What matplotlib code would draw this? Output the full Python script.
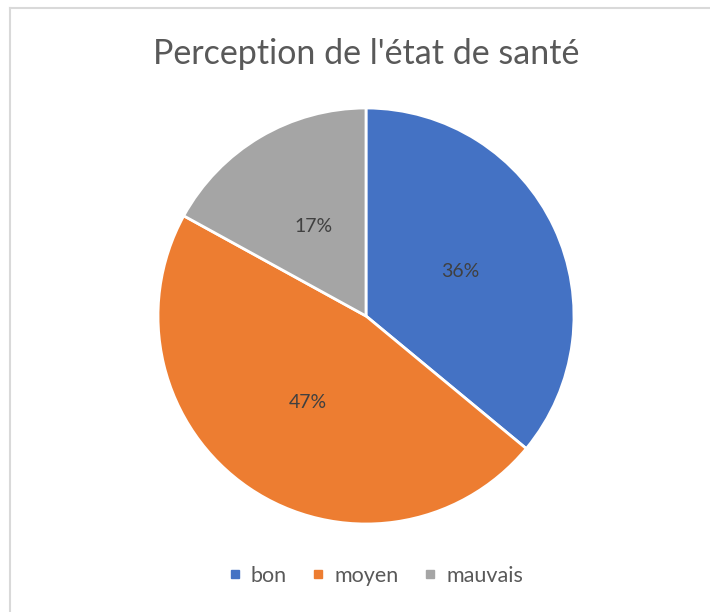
import matplotlib.pyplot as plt
from matplotlib.lines import Line2D

labels = ['bon', 'moyen', 'mauvais']
values = [36, 47, 17]
colors = ['#4472C4', '#ED7D31', '#A5A5A5']

plt.rcParams['font.family'] = ['Lato', 'DejaVu Sans']
text_color = '#595959'

W, H = 710, 612
fig = plt.figure(figsize=(W / 100, H / 100), dpi=100)

# light chart border (only left and top visible in the crop)
fig.add_artist(Line2D([10 / W, 10 / W], [0, 1 - 8 / H], color='#D9D9D9', lw=1.5))
fig.add_artist(Line2D([10 / W, 1], [1 - 8 / H, 1 - 8 / H], color='#D9D9D9', lw=1.5))

cx, cy, r = 366, 316, 208
ax = fig.add_axes([(cx - r) / W, 1 - (cy + r) / H, 2 * r / W, 2 * r / H])
wedges, texts, autotexts = ax.pie(
    values, colors=colors, startangle=90, counterclock=False,
    autopct='%1.0f%%', pctdistance=0.5,
    wedgeprops=dict(edgecolor='white', linewidth=2),
    textprops=dict(color='#404040', fontsize=14))
ax.set_xlim(-1, 1)
ax.set_ylim(-1, 1)
ax.set_aspect('equal')
ax.axis('off')

fig.text(366 / W, 1 - 54 / H, "Perception de l'état de santé",
         ha='center', va='center', fontsize=24.5, color=text_color)

handles = [Line2D([], [], marker='s', linestyle='', markersize=6,
                  markerfacecolor=c, markeredgecolor=c) for c in colors]
fig.legend(handles, labels, loc='center', bbox_to_anchor=(374 / W, 1 - 576 / H),
           ncol=3, frameon=False, fontsize=15.5, labelcolor=text_color,
           handletextpad=0.3, columnspacing=1.0, handlelength=0.9)

fig.savefig('out.png', dpi=100, facecolor='white')
